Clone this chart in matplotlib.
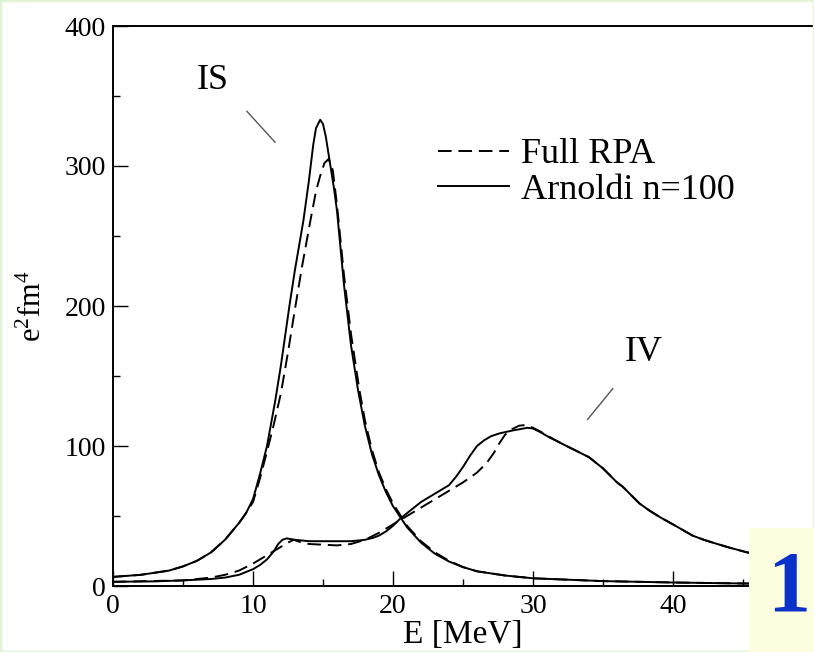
import matplotlib
matplotlib.use("Agg")
import matplotlib.pyplot as plt
from matplotlib.patches import Rectangle

plt.rcParams['font.family'] = ['Liberation Serif', 'DejaVu Serif']
plt.rcParams['mathtext.fontset'] = 'custom'
plt.rcParams['mathtext.rm'] = 'Liberation Serif'
plt.rcParams['mathtext.it'] = 'Liberation Serif:italic'

# ---- data ----
is_arnoldi_E = [0, 2, 4, 5, 6, 7, 8, 9, 9.5, 10, 10.5, 11, 11.6, 12, 12.6, 13, 13.6, 14, 14.3, 14.5,
                14.8, 15.0, 15.2, 15.5, 15.8, 16.0, 16.5, 17, 17.5, 18, 18.5, 19, 19.5, 20, 21, 22,
                23, 24, 25, 26, 28, 30, 35, 40, 45, 50]
is_arnoldi_v = [6.5, 8, 11, 14, 18, 24, 33, 45, 52, 62, 80, 100, 133, 158, 200, 226, 261, 290, 315, 327,
                333, 330, 321, 302, 283, 268, 215, 172, 140, 114, 94, 79, 67, 57, 42, 31,
                23, 17.5, 13.5, 10.5, 7.5, 5.5, 3.5, 2.5, 1.8, 1.5]

is_rpa_E = [0, 2, 4, 5, 6, 7, 8, 9, 9.5, 10, 10.5, 11, 11.5, 12, 12.5, 13, 13.5, 14.1, 14.5, 14.8,
            15.1, 15.4, 15.7, 16.0, 16.5, 17, 17.6, 18, 18.5, 19, 19.5, 20, 21, 22, 23, 24, 25, 26,
            28, 30, 35, 40, 45, 50]
is_rpa_v = [6.5, 8, 11, 14, 18, 24, 33, 45, 52, 60, 77, 96, 116, 138, 167, 198, 228, 261, 282, 293,
            302, 305, 297, 272, 222, 180, 140, 118, 97, 81, 69, 59, 43, 32, 24, 18, 13.5, 10.5,
            7.5, 5.5, 3.5, 2.5, 1.8, 1.5]

iv_arnoldi_E = [0, 3, 5, 7, 8, 9, 10, 10.5, 11, 11.5, 11.8, 12.1, 12.4, 13, 14, 15, 16, 17, 18, 18.6,
                19, 19.5, 20, 20.5, 21, 21.5, 22, 22.5, 23, 23.5, 24, 24.5, 25, 25.5, 26, 26.5, 27,
                27.6, 28.5, 29.6, 30, 30.5, 31.2, 32, 33, 34, 34.5, 35, 35.5, 36, 36.4, 37, 37.6,
                38.3, 39.1, 40, 41.4, 42.2, 43, 44, 45.3, 47, 50]
iv_arnoldi_v = [3, 3.3, 4, 5, 6, 8, 12, 15, 19, 25, 30, 33, 34, 33, 32, 32, 32, 32, 33, 34.5,
                36, 39, 43, 48, 52, 56, 60, 63, 66, 69, 72, 78, 85, 93, 100, 104, 107,
                109, 111, 113, 112.5, 110, 106, 102, 97, 92, 88, 84, 79, 74, 71, 65, 59,
                54, 49, 44, 36, 33, 30.5, 27.5, 24, 21, 18]

iv_rpa_E = [0, 5, 7, 8, 9, 10, 11, 12, 12.5, 12.9, 13.5, 14, 15, 16, 17, 18, 19, 20, 21, 22, 23, 24,
            25, 26, 26.7, 27.2, 27.6, 28, 28.5, 29, 29.5, 30, 30.5, 31, 32, 33, 34, 34.5, 35, 35.5,
            36, 36.4, 37, 37.6, 38.3, 39.1, 40, 41.4, 42.2, 43, 44, 45.3, 47, 50]
iv_rpa_v = [3, 4, 6, 8, 11, 16, 22, 28, 31, 33, 31, 30, 29.5, 29, 30, 33, 38, 44, 50, 56, 62, 68,
            74, 81, 88, 95, 102, 108, 112, 114.5, 115, 113, 110.5, 107.5, 102, 97, 92, 88, 84, 79,
            74, 71, 65, 59, 54, 49, 44, 36, 33, 30.5, 27.5, 24, 21, 18]

legend_labels = ["Full RPA", "Arnoldi n=100"]
x_ticks = [0, 10, 20, 30, 40]
y_ticks = [0, 100, 200, 300, 400]

# ---- figure ----
W, H = 814, 652
fig = plt.figure(figsize=(W / 100, H / 100), dpi=100)
fig.patch.set_facecolor('white')

left, bottom, top = 113, 66, 26
ax = fig.add_axes([left / W, bottom / H, 700 / W, (H - bottom - top) / H])

lw = 1.4
dash = (0, (7, 3.5))
ax.plot(iv_rpa_E, iv_rpa_v, color='black', lw=lw, linestyle=dash)
ax.plot(iv_arnoldi_E, iv_arnoldi_v, color='black', lw=lw)
l1, = ax.plot(is_rpa_E, is_rpa_v, color='black', lw=lw, linestyle=dash, label=legend_labels[0])
l2, = ax.plot(is_arnoldi_E, is_arnoldi_v, color='black', lw=lw, label=legend_labels[1])

ax.set_xlim(0, 50)
ax.set_ylim(0, 400)
ax.set_xticks(x_ticks)
ax.set_yticks(y_ticks)
ax.set_xticks([5, 15, 25, 35, 45], minor=True)
ax.set_yticks([50, 150, 250, 350], minor=True)
ax.tick_params(which='both', direction='in', width=1.0, labelsize=20, colors='black')
ax.tick_params(which='major', length=10.5)
ax.tick_params(which='minor', length=5)
ax.tick_params(axis='x', pad=6)
ax.tick_params(axis='y', pad=5)
for s in ax.spines.values():
    s.set_linewidth(1.4)
ax.spines['right'].set_visible(False)

ax.set_xlabel('E [MeV]', fontsize=24, labelpad=0)
ax.set_ylabel(r'$\mathrm{e^2fm^4}$', fontsize=22, labelpad=12)

ax.text(7.1, 361, 'IS', fontsize=26, ha='center', va='center')
ax.plot([9.57, 11.57], [339, 317], color='#555555', lw=1.0)
ax.text(37.9, 167, 'IV', fontsize=26, ha='center', va='center')
ax.plot([35.7, 33.9], [141, 119], color='#555555', lw=1.0)

ax.legend(handles=[l1, l2], loc='upper left', bbox_to_anchor=(0.464, 0.80), frameon=False,
          fontsize=26, handlelength=1.97, handletextpad=0.33, labelspacing=0.07,
          borderaxespad=0, borderpad=0)

# light green frame around the picture
fig.add_artist(Rectangle((0, 0), 1, 1, transform=fig.transFigure, fill=False,
                         edgecolor='#dff5d6', lw=2.5, zorder=10))
# yellow badge with number
fig.add_artist(Rectangle((749 / W, 0), 1 - 749 / W, (H - 528) / H, transform=fig.transFigure,
                         facecolor='#fdfde0', edgecolor='none', zorder=20))
fig.text(789 / W, (H - 590) / H, '1', fontsize=62, fontweight='bold', color='#0a32c8',
         ha='center', va='center', zorder=21)

fig.savefig('out.png', dpi=100)
